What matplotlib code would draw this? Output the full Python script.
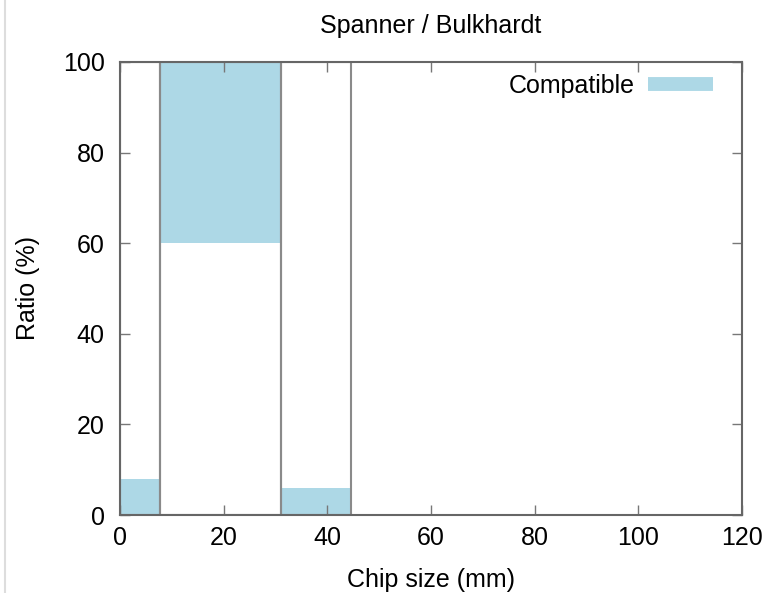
import matplotlib.pyplot as plt
from matplotlib.lines import Line2D

plt.rcParams['font.family'] = ['Liberation Sans', 'DejaVu Sans']

# bin edges along chip size, and the compatible share in each bin
edges = [0, 7.7, 31.1, 44.6]
compat_bottom = [0, 60, 0]
compat_top = [8, 100, 6]

fig = plt.figure(figsize=(7.64, 5.93), dpi=100)
ax = fig.add_axes([0.157, 0.1315, 0.814, 0.764])

for i in range(len(edges) - 1):
    left, right = edges[i], edges[i + 1]
    ax.bar(left, compat_top[i] - compat_bottom[i], width=right - left,
           bottom=compat_bottom[i], align='edge', color='#add8e6',
           edgecolor='none', zorder=1)
    # outline of the whole bin
    ax.bar(left, 100, width=right - left, align='edge', fill=False,
           edgecolor='#8a8a8a', linewidth=1.5, zorder=2)

ax.set_xlim(0, 120)
ax.set_ylim(0, 100)
ax.set_xticks(range(0, 121, 20))
ax.set_yticks(range(0, 101, 20))
ax.tick_params(direction='in', length=7, width=1, color='#777777',
               top=True, right=True, labelsize=18)
ax.tick_params(axis='x', pad=8)
ax.tick_params(axis='y', pad=11)
for s in ax.spines.values():
    s.set_color('#666666')
    s.set_linewidth(1.5)
    s.set_zorder(3)

ax.set_title('Spanner / Bulkhardt', fontsize=18, pad=21)
ax.set_xlabel('Chip size (mm)', fontsize=18, labelpad=13)
ax.set_ylabel('Ratio (%)', fontsize=18, labelpad=16.5)

handle = Line2D([], [], color='#add8e6', linewidth=10, solid_capstyle='butt')
ax.legend([handle], ['Compatible'], loc='upper right', frameon=False,
          markerfirst=False, fontsize=18, handlelength=2.6,
          handletextpad=0.5, borderpad=0, borderaxespad=0,
          bbox_to_anchor=(0.953, 0.973))

# thin page border on the left
fig.add_artist(Line2D([0.006, 0.006], [0.0, 1.0], color='#dddddd',
                      linewidth=1.5, transform=fig.transFigure))

fig.savefig('out.png', dpi=100)
